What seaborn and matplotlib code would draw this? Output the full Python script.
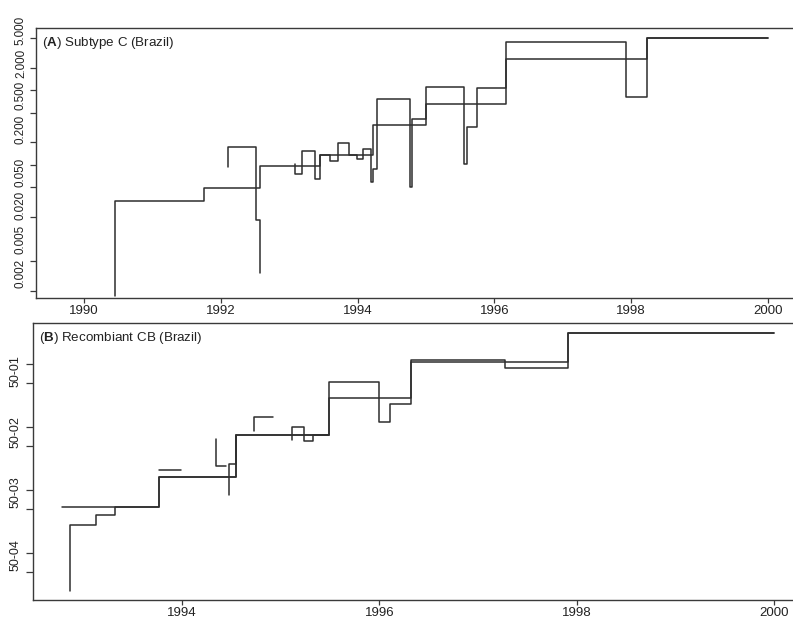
import pandas as pd
import matplotlib
matplotlib.use("Agg")
import matplotlib.pyplot as plt
from matplotlib.ticker import NullFormatter
import seaborn as sns

# Panel A: Subtype C (Brazil) - step curves (year, value)
a1_year = [1990.46, 1990.46, 1991.76, 1992.57, 1993.45, 1994.23, 1995.00, 1996.17, 1998.23, 2000.00]
a1_value = [0.0017, 0.032, 0.048, 0.095, 0.133, 0.337, 0.658, 2.65, 5.08, 5.08]
a2_year = [1992.11, 1992.11, 1992.52, 1992.57]
a2_value = [0.094, 0.172, 0.018, 0.0035]
a3_year = [1993.08, 1993.08, 1993.18, 1993.38, 1993.45, 1993.60, 1993.71, 1993.87, 1993.99,
           1994.08, 1994.20, 1994.23, 1994.28, 1994.77, 1994.79, 1995.00, 1995.56, 1995.60,
           1995.74, 1996.17, 1997.92, 1998.23, 2000.00]
a3_value = [0.101, 0.0755, 0.154, 0.0634, 0.133, 0.113, 0.193, 0.136, 0.118,
            0.164, 0.0589, 0.0873, 0.769, 0.0505, 0.406, 1.11, 0.101, 0.323,
            1.06, 4.44, 0.81, 5.08, 5.08]

# Panel B: Recombiant CB (Brazil)
b1_year = [1992.86, 1992.86, 1993.13, 1993.32, 1993.77, 1994.55, 1995.49, 1996.00, 1996.11, 1996.32, 1997.91, 2000.00]
b1_value = [2.45e-5, 2.76e-4, 3.94e-4, 5.40e-4, 1.62e-3, 7.48e-3, 5.28e-2, 1.21e-2, 2.31e-2, 0.108, 0.318, 0.318]
b2_year = [1992.78, 1993.77, 1994.55, 1995.49, 1996.32, 1997.27, 1997.91, 2000.00]
b2_value = [5.40e-4, 1.62e-3, 7.48e-3, 2.94e-2, 0.117, 0.0863, 0.318, 0.318]
b3_year = [1993.77, 1993.99]
b3_value = [2.05e-3, 2.05e-3]
b4_year = [1994.34, 1994.34, 1994.45]
b4_value = [6.39e-3, 2.40e-3, 2.40e-3]
b5_year = [1994.48, 1994.48, 1994.55]
b5_value = [8.3e-4, 2.58e-3, 7.48e-3]
b6_year = [1994.73, 1994.73, 1994.92]
b6_value = [8.77e-3, 1.45e-2, 1.45e-2]
b7_year = [1995.11, 1995.11, 1995.24, 1995.33, 1995.49]
b7_value = [6.2e-3, 1.01e-2, 6.0e-3, 7.48e-3, 7.48e-3]

# axis ticks and (odd) labels as printed in the figure
a_xticks = [1990, 1992, 1994, 1996, 1998, 2000]
a_tick_marks = [0.002, 0.005, 0.01, 0.02, 0.05, 0.1, 0.2, 0.5, 1, 2, 5]
a_tick_labels = ["0.002", "0.005", "0.020", "0.050", "0.200", "0.500", "2.000", "5.000"]
b_xticks = [1994, 1996, 1998, 2000]
b_tick_marks = [1e-1, 5e-2, 1e-2, 5e-3, 1e-3, 5e-4, 1e-4, 5e-5]
b_tick_labels = ["50-01", "50-02", "50-03", "50-04"]

# where the labels sit along the log axis
a_label_pos = [0.00349, 0.0100, 0.0286, 0.0796, 0.30, 0.84, 2.3, 6.4]
b_label_pos = [0.0782, 0.00835, 9.27e-4, 9.2e-5]


def to_frame(segments):
    parts = []
    for i, (yr, val) in enumerate(segments):
        parts.append(pd.DataFrame({"year": yr, "value": val, "seg": i}))
    return pd.concat(parts, ignore_index=True)


df_a = to_frame([(a1_year, a1_value), (a2_year, a2_value), (a3_year, a3_value)])
df_b = to_frame([(b1_year, b1_value), (b2_year, b2_value), (b3_year, b3_value),
                 (b4_year, b4_value), (b5_year, b5_value), (b6_year, b6_value),
                 (b7_year, b7_value)])

sns.set_style("ticks")
plt.rcParams["font.family"] = ["Liberation Sans", "DejaVu Sans"]
plt.rcParams["mathtext.fontset"] = "custom"
plt.rcParams["mathtext.rm"] = "Liberation Sans"
plt.rcParams["mathtext.bf"] = "Liberation Sans:bold"

line_col = "#2e2e2e"
axis_col = "#3a3a3a"

fig = plt.figure(figsize=(7.93, 6.19), dpi=100)
ax_a = fig.add_axes([36 / 793, 1 - 298 / 619, 764 / 793, 270 / 619])
ax_b = fig.add_axes([33 / 793, 1 - 600 / 619, 767 / 793, 277 / 619])


def draw_panel(ax, df, title, xlim, ylim, xticks, marks, label_pos, labels, ylen, ypad, ysize):
    sns.lineplot(data=df, x="year", y="value", units="seg", estimator=None, sort=False,
                 drawstyle="steps-post", color=line_col, linewidth=1.1, ax=ax)
    ax.set_yscale("log")
    ax.set_xlim(*xlim)
    ax.set_ylim(*ylim)
    ax.set_xlabel("")
    ax.set_ylabel("")
    ax.set_xticks(xticks)
    ax.set_xticklabels([str(x) for x in xticks], fontsize=9.5, color="#222222")
    ax.set_yticks(label_pos)
    ax.set_yticklabels(labels, rotation=90, fontsize=ysize, color="#222222", va="center")
    ax.set_yticks(marks, minor=True)
    ax.yaxis.set_minor_formatter(NullFormatter())
    ax.tick_params(axis="y", which="major", length=0, pad=ylen + ypad)
    ax.tick_params(axis="y", which="minor", length=ylen, width=0.9, color=axis_col, direction="out")
    ax.tick_params(axis="x", length=3.6, width=0.9, color=axis_col, pad=1.5, direction="out")
    for sp in ax.spines.values():
        sp.set_color(axis_col)
        sp.set_linewidth(1.0)
    ax.spines["right"].set_visible(False)
    ax.annotate(title, xy=(0, 1), xycoords="axes fraction", xytext=(4.3, -11),
                textcoords="offset points", ha="left", va="center", fontsize=9.6, color="#222222")


draw_panel(ax_a, df_a, r"($\mathbf{A}$) Subtype C (Brazil)", (1989.298, 2000.468), (0.00161, 6.86),
           a_xticks, a_tick_marks, a_label_pos, a_tick_labels, 4.3, 2.2, 8.4)
draw_panel(ax_b, df_b, r"($\mathbf{B}$) Recombiant CB (Brazil)", (1992.49, 2000.26), (1.77e-5, 0.455),
           b_xticks, b_tick_marks, b_label_pos, b_tick_labels, 5.0, 3.0, 9.0)

fig.savefig("out.png", dpi=100)
